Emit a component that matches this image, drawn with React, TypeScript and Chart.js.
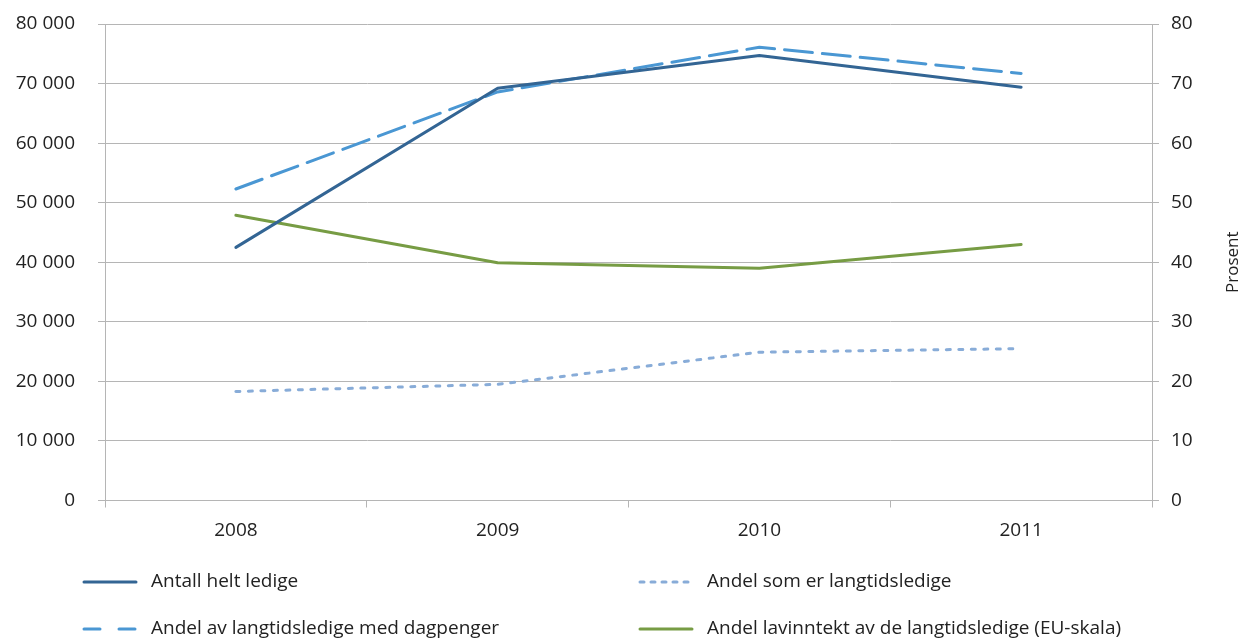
import React, { useEffect, useRef } from "react";
import { Chart, registerables } from "chart.js";

Chart.register(...registerables);

const years = ["2008", "2009", "2010", "2011"];
const antallHeltLedige = [42500, 69200, 74700, 69400];
const andelDagpenger = [52.3, 68.6, 76.1, 71.7];
const andelLangtidsledige = [18.3, 19.5, 24.9, 25.5];
const andelLavinntekt = [47.9, 39.9, 39.0, 43.0];
const leftTicks = [0, 10000, 20000, 30000, 40000, 50000, 60000, 70000, 80000];
const rightTicks = [0, 10, 20, 30, 40, 50, 60, 70, 80];
const rightAxisTitle = "Prosent";

const FONT = "'Open Sans', 'Noto Sans', sans-serif";
const TEXT = "#222222";
const GRID = "#b5b5b5";

const fmt = (v: number) => {
  const s = String(Math.round(v));
  return s.replace(/\B(?=(\d{3})+(?!\d))/g, " ");
};

const legendPlugin = {
  id: "customLegend",
  afterDraw(chart: any) {
    const ctx = chart.ctx;
    const ds = chart.data.datasets;
    const slots = [
      { x: 84, y: 582 },
      { x: 640, y: 582 },
      { x: 84, y: 629 },
      { x: 640, y: 629 },
    ];
    const order = [0, 2, 1, 3];
    ctx.save();
    order.forEach((di, i) => {
      const d = ds[di];
      const s = slots[i];
      ctx.beginPath();
      ctx.strokeStyle = d.borderColor;
      ctx.lineWidth = 3;
      ctx.lineCap = "round";
      ctx.setLineDash(d.legendDash || []);
      ctx.moveTo(s.x, s.y);
      ctx.lineTo(s.x + 52, s.y);
      ctx.stroke();
      ctx.setLineDash([]);
      ctx.fillStyle = TEXT;
      ctx.font = `19px ${FONT}`;
      ctx.textBaseline = "middle";
      ctx.textAlign = "left";
      ctx.fillText(d.label, s.x + 67, s.y);
    });
    // right axis title, reading upwards
    const sc = chart.scales.y1;
    const ca = chart.chartArea;
    ctx.translate(sc.right - 8, (ca.top + ca.bottom) / 2);
    ctx.rotate(-Math.PI / 2);
    ctx.font = `17px ${FONT}`;
    ctx.fillStyle = TEXT;
    ctx.textAlign = "center";
    ctx.textBaseline = "middle";
    ctx.fillText(rightAxisTitle, 0, 0);
    ctx.restore();
  },
};

export default function App() {
  const ref = useRef<HTMLCanvasElement>(null);
  useEffect(() => {
    if (!ref.current) return;
    const chart = new Chart(ref.current, {
      type: "line",
      data: {
        labels: years,
        datasets: [
          {
            label: "Antall helt ledige",
            data: antallHeltLedige,
            yAxisID: "y",
            borderColor: "#336594",
            borderWidth: 3,
            pointRadius: 0,
            borderCapStyle: "round",
            borderJoinStyle: "round",
            legendDash: [],
          } as any,
          {
            label: "Andel av langtidsledige med dagpenger",
            data: andelDagpenger,
            yAxisID: "y1",
            borderColor: "#4a97d3",
            borderWidth: 3,
            pointRadius: 0,
            borderDash: [28, 10],
            borderCapStyle: "round",
            borderJoinStyle: "round",
            legendDash: [16, 19],
          } as any,
          {
            label: "Andel som er langtidsledige",
            data: andelLangtidsledige,
            yAxisID: "y1",
            borderColor: "#88acd8",
            borderWidth: 3,
            pointRadius: 0,
            borderDash: [4, 8.5],
            borderCapStyle: "round",
            borderJoinStyle: "round",
            legendDash: [4, 7],
          } as any,
          {
            label: "Andel lavinntekt av de langtidsledige (EU-skala)",
            data: andelLavinntekt,
            yAxisID: "y1",
            borderColor: "#779c44",
            borderWidth: 3,
            pointRadius: 0,
            borderCapStyle: "round",
            borderJoinStyle: "round",
            legendDash: [],
          } as any,
        ],
      },
      options: {
        animation: false,
        responsive: true,
        maintainAspectRatio: false,
        layout: { padding: { top: 24, left: 0, right: 0, bottom: 0 } },
        plugins: {
          legend: { display: false },
          tooltip: { enabled: false },
        },
        scales: {
          x: {
            offset: true,
            grid: {
              offset: true,
              drawOnChartArea: false,
              drawTicks: true,
              tickLength: 7,
              color: GRID,
            },
            border: { display: true, color: GRID },
            ticks: { color: TEXT, font: { family: FONT, size: 19 }, padding: 12 },
            afterFit: (s: any) => {
              s.height = 139.5;
            },
          },
          y: {
            position: "left",
            min: 0,
            max: 80000,
            afterBuildTicks: (s: any) => {
              s.ticks = leftTicks.map((v) => ({ value: v }));
            },
            grid: { color: GRID, tickLength: 7 },
            border: { display: true, color: GRID },
            ticks: {
              color: TEXT,
              font: { family: FONT, size: 19 },
              padding: 23,
              callback: (v: any) => fmt(Number(v)),
            },
            afterFit: (s: any) => {
              s.width = 105;
              s.paddingTop = 0;
              s.paddingBottom = 0;
            },
          },
          y1: {
            position: "right",
            min: 0,
            max: 80,
            afterBuildTicks: (s: any) => {
              s.ticks = rightTicks.map((v) => ({ value: v }));
            },
            grid: { drawOnChartArea: false, color: GRID, tickLength: 7 },
            border: { display: true, color: GRID },
            ticks: {
              color: TEXT,
              font: { family: FONT, size: 19 },
              padding: 12,
              callback: (v: any) => String(v),
            },
            afterFit: (s: any) => {
              s.width = 89;
              s.paddingTop = 0;
              s.paddingBottom = 0;
            },
          },
        },
      },
      plugins: [legendPlugin],
    });
    return () => chart.destroy();
  }, []);
  return (
    <div style={{ position: "fixed", left: 0, top: 0, width: 1241, height: 640, background: "#fff" }}>
      <canvas ref={ref} />
    </div>
  );
}
